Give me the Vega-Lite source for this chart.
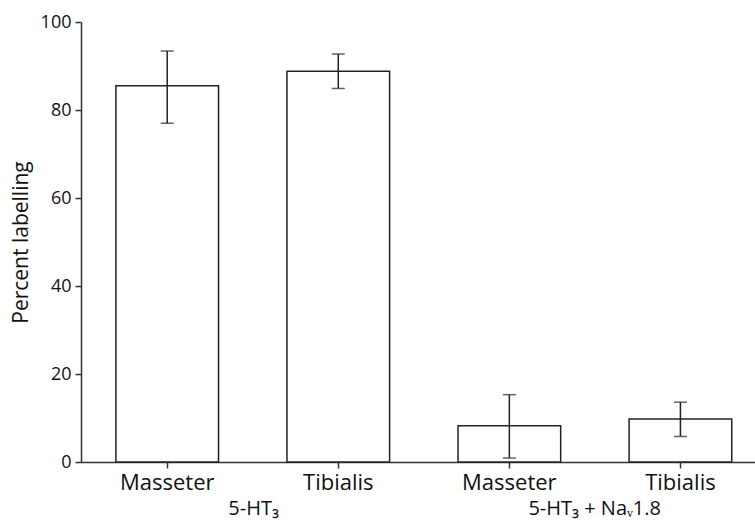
{
  "$schema": "https://vega.github.io/schema/vega-lite/v6.json",
  "width": 674,
  "height": 440,
  "autosize": {"type": "none"},
  "padding": {"left": 81, "top": 22, "right": 0, "bottom": 61},
  "background": "white",
  "config": {
    "view": {"stroke": null},
    "font": "Open Sans",
    "axis": {
      "grid": false,
      "domainColor": "#333333",
      "tickColor": "#333333",
      "domainWidth": 1.5,
      "tickWidth": 1.5,
      "labelColor": "#111111",
      "titleColor": "#111111",
      "labelFont": "Open Sans",
      "titleFont": "Open Sans",
      "titleFontWeight": "normal"
    }
  },
  "data": {
    "values": [
      {"bar": "5-HT₃|Masseter", "group": "5-HT₃", "value": 85.5, "lower": 77.0, "upper": 93.4},
      {"bar": "5-HT₃|Tibialis", "group": "5-HT₃", "value": 88.8, "lower": 84.9, "upper": 92.7},
      {"bar": "5-HT₃ + Naᵥ1.8|Masseter", "group": "5-HT₃ + Naᵥ1.8", "value": 8.25, "lower": 0.9, "upper": 15.3},
      {"bar": "5-HT₃ + Naᵥ1.8|Tibialis", "group": "5-HT₃ + Naᵥ1.8", "value": 9.8, "lower": 5.8, "upper": 13.6}
    ]
  },
  "layer": [
    {
      "encoding": {
        "x": {
          "field": "bar",
          "type": "nominal",
          "sort": null,
          "scale": {"paddingInner": 0.4, "paddingOuter": 0.17, "align": 0.6},
          "axis": {
            "title": null,
            "labelAngle": 0,
            "labelExpr": "split(datum.value, '|')[1]",
            "labelFontSize": 22,
            "labelPadding": 4,
            "tickSize": 6
          }
        }
      },
      "layer": [
        {
          "mark": {"type": "bar", "fill": "white", "stroke": "#222222", "strokeWidth": 1.5},
          "encoding": {
            "y": {
              "field": "value",
              "type": "quantitative",
              "scale": {"domain": [0, 100], "nice": false},
              "axis": {
                "title": "Percent labelling",
                "titleFontSize": 21,
                "titlePadding": 9,
                "labelFontSize": 18,
                "labelPadding": 4,
                "tickSize": 6,
                "values": [0, 20, 40, 60, 80, 100]
              }
            }
          }
        },
        {
          "mark": {"type": "rule", "color": "#222222", "strokeWidth": 1.5},
          "encoding": {
            "y": {"field": "lower", "type": "quantitative"},
            "y2": {"field": "upper"}
          }
        },
        {
          "mark": {"type": "tick", "color": "#222222", "size": 13, "thickness": 1.5},
          "encoding": {"y": {"field": "upper", "type": "quantitative"}}
        },
        {
          "mark": {"type": "tick", "color": "#222222", "size": 13, "thickness": 1.5},
          "encoding": {"y": {"field": "lower", "type": "quantitative"}}
        }
      ]
    },
    {
      "mark": {"type": "point", "opacity": 0},
      "encoding": {
        "x": {
          "field": "group",
          "type": "nominal",
          "sort": null,
          "scale": {"type": "point", "padding": 0.488, "align": 0.517},
          "axis": {
            "orient": "bottom",
            "title": null,
            "labelAngle": 0,
            "domain": false,
            "ticks": false,
            "labelFontSize": 20,
            "labelPadding": 36
          }
        },
        "y": {"field": "value", "type": "quantitative"}
      }
    }
  ],
  "resolve": {"scale": {"x": "independent"}}
}
